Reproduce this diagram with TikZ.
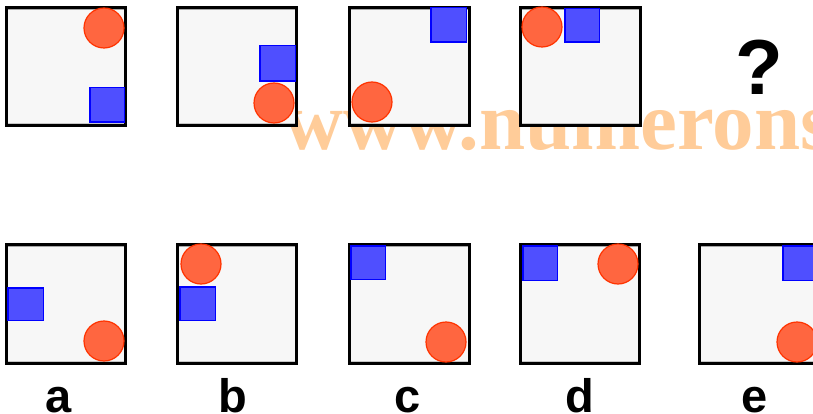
\documentclass[tikz,border=0pt]{standalone}
\usepackage{fontspec}
\setmainfont{Liberation Sans}
\newfontfamily\wmfont{Liberation Serif}
\definecolor{panelfill}{HTML}{F7F7F7}
\definecolor{sqfill}{HTML}{4F4FFF}
\definecolor{sqline}{HTML}{0000FF}
\definecolor{cfill}{HTML}{FF6640}
\definecolor{cline}{HTML}{FF3300}
\definecolor{wmcol}{HTML}{FFCC99}
\tikzset{
  panel/.style={draw=black, line width=3.2pt, fill=panelfill},
  sq/.style={draw=sqline, line width=1.5pt, fill=sqfill},
  circ/.style={draw=cline, line width=1.2pt, fill=cfill},
  lbl/.style={font=\bfseries\fontsize{47}{47}\selectfont, anchor=base, inner sep=0pt},
  qm/.style={font=\bfseries\fontsize{78}{78}\selectfont, anchor=base, inner sep=0pt},
  wm/.style={font=\wmfont\bfseries\fontsize{83}{83}\selectfont, text=wmcol, anchor=base west, inner sep=0pt}
}
\newcommand{\panelbox}[4]{%
  \draw[panel] (#1+1.6,#2+1.6) rectangle (#3-1.6,#4-1.6);
  \draw[gray!70, line width=1pt] (#1+3.2,#2+3.7) -- (#3-3.2,#2+3.7);
  \draw[gray!45, line width=1pt] (#1+3.2,#4-3.7) -- (#3-3.2,#4-3.7);
}
\newcommand{\bsq}[4]{\draw[sq] (#1+0.75,#2+0.75) rectangle (#3-0.75,#4-0.75);}
\newcommand{\rcirc}[2]{\draw[circ] (#1,#2) circle[radius=20];}
\begin{document}
\begin{tikzpicture}[x=1pt,y=-1pt]
\useasboundingbox (0,0) rectangle (813,414);
% watermark (behind panels)
\node[wm] (watermark) at (283,150) {www.numerons};
% top row
\panelbox{5}{6}{127}{127}
\rcirc{104}{28}
\bsq{89}{87}{125}{123}
\panelbox{176}{6}{298}{127}
\bsq{259}{45}{296}{82}
\rcirc{274}{103}
\panelbox{348}{6}{471}{127}
\bsq{430}{7}{467}{43}
\rcirc{372}{102}
\panelbox{519}{6}{642}{127}
\bsq{564}{8}{600}{43}
\rcirc{542}{27}
\node[qm] (question) at (759,95) {?};
% bottom row
\panelbox{5}{243}{127}{365}
\bsq{7}{287}{44}{321}
\rcirc{104}{341}
\panelbox{176}{243}{298}{365}
\rcirc{201}{264}
\bsq{179}{286}{216}{321}
\panelbox{348}{243}{471}{365}
\bsq{350}{245}{386}{280}
\rcirc{446}{342}
\panelbox{519}{243}{641}{365}
\bsq{522}{245}{558}{281}
\rcirc{618}{264}
\panelbox{698}{243}{820}{365}
\bsq{782}{245}{818}{281}
\rcirc{797}{342}
% labels
\node[lbl] (la) at (59,412) {a};
\node[lbl] (lb) at (233,412) {b};
\node[lbl] (lc) at (408,412) {c};
\node[lbl] (ld) at (580,412) {d};
\node[lbl] (le) at (755,412) {e};
\end{tikzpicture}
\end{document}
